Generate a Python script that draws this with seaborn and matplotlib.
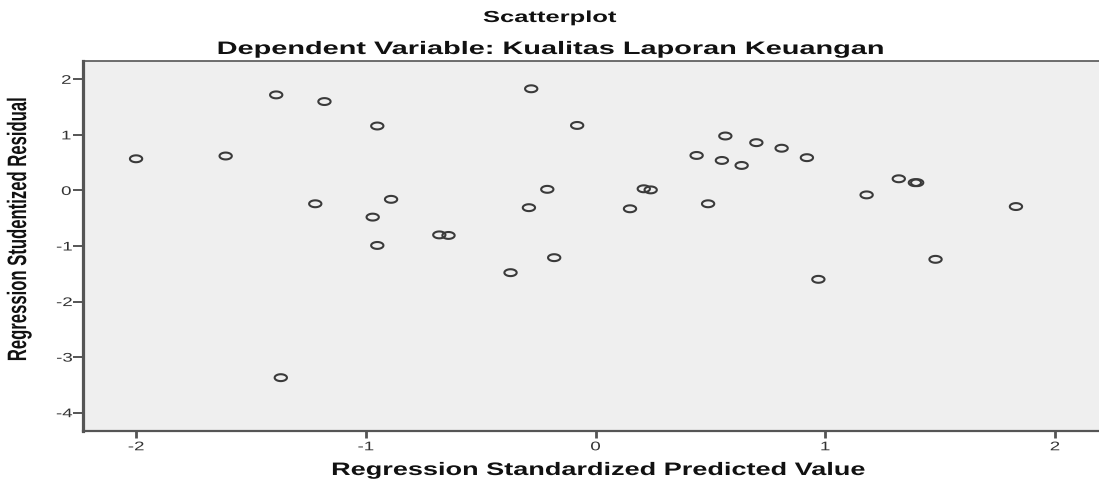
import numpy as np
import pandas as pd
import matplotlib
matplotlib.use("Agg")
import matplotlib.pyplot as plt
from matplotlib.path import Path
from matplotlib.patheffects import AbstractPathEffect
from matplotlib.transforms import Affine2D
import seaborn as sns

predicted = [-2.00, -1.61, -1.39, -1.18, -0.95, -0.28, -1.22, -0.89, -0.97,
             -0.68, -0.64, -0.29, -0.21, -0.08, 0.565, 0.70, 0.81, 0.92,
             0.44, 0.55, 0.636, 1.32, 1.39, 1.40, 0.21, 0.24, 0.15, 0.49,
             1.18, 1.83, -0.95, -0.37, -1.37, -0.18, 0.97, 1.48]
residual = [0.57, 0.62, 1.72, 1.60, 1.16, 1.83, -0.24, -0.16, -0.48,
            -0.80, -0.81, -0.31, 0.02, 1.17, 0.98, 0.86, 0.76, 0.59,
            0.63, 0.54, 0.45, 0.21, 0.14, 0.14, 0.03, 0.01, -0.33, -0.24,
            -0.08, -0.29, -0.99, -1.48, -3.37, -1.21, -1.60, -1.24]
x_ticks = [-2, -1, 0, 1, 2]
y_ticks = [2, 1, 0, -1, -2, -3, -4]


class StretchX(AbstractPathEffect):
    """Widen drawn text horizontally about its own centre (the source image is stretched)."""
    def __init__(self, sx):
        super().__init__((0, 0))
        self._sx = sx

    def draw_path(self, renderer, gc, tpath, affine, rgbFace=None):
        ext = tpath.get_extents(affine)
        cx = 0.5 * (ext.x0 + ext.x1)
        aff = affine + Affine2D().translate(-cx, 0).scale(self._sx, 1.0).translate(cx, 0)
        renderer.draw_path(gc, tpath, aff, rgbFace)


df = pd.DataFrame({"pred": predicted, "resid": residual})

sns.set_theme(style="white")
plt.rcParams['font.family'] = ['Liberation Sans', 'DejaVu Sans']

W, H = 1099, 481
L, R, T, B = 83, 1099, 62, 432
fig = plt.figure(figsize=(W / 100, H / 100), dpi=100)
ax = fig.add_axes([L / W, 1 - B / H, (R - L) / W, (B - T) / H])
ax.set_facecolor("#efefef")

t = np.linspace(0, 2 * np.pi, 60)
ellipse = Path(np.column_stack([np.cos(t), 0.56 * np.sin(t)]), closed=True)

sns.scatterplot(data=df, x="pred", y="resid", ax=ax, marker=ellipse, s=78,
                facecolors="none", edgecolor="#3a3a3a", linewidth=1.5)

ax.set_xlim(-2.231, 2.1915)
ax.set_ylim(-4.33, 2.33)
ax.set_xticks(x_ticks)
ax.set_yticks(y_ticks)
ax.set_xticklabels([str(v) for v in x_ticks])
ax.set_yticklabels([str(v) for v in y_ticks])
ax.tick_params(axis="x", direction="out", length=5.2, width=2.0,
               color="#555555", labelsize=9, labelcolor="#333333", pad=2.2)
ax.tick_params(axis="y", direction="out", length=7.5, width=1.4,
               color="#555555", labelsize=9, labelcolor="#333333", pad=2)
ax.tick_params(left=True, bottom=True)

for side in ["left", "bottom", "top"]:
    ax.spines[side].set_visible(True)
    ax.spines[side].set_color("#555555")
ax.spines["right"].set_visible(False)
ax.spines["left"].set_linewidth(2.3)
ax.spines["bottom"].set_linewidth(1.6)
ax.spines["top"].set_linewidth(1.2)

ax.set_xlabel("Regression Standardized Predicted Value", fontsize=13,
              fontweight="bold", color="#111111", va="baseline")
ax.xaxis.set_label_coords((598 - L) / (R - L), (B - 476) / (B - T))
ax.set_ylabel("Regression Studentized Residual", fontsize=12,
              fontweight="bold", color="#111111", va="center")
ax.yaxis.set_label_coords((19 - L) / (R - L), (B - 231) / (B - T))

ax.xaxis.label.set_path_effects([StretchX(1.5)])
ax.yaxis.label.set_path_effects([StretchX(1.6)])
for lbl in ax.get_xticklabels() + ax.get_yticklabels():
    lbl.set_path_effects([StretchX(1.5)])

t1 = fig.text(550 / W, 1 - 23 / H, "Scatterplot", ha="center", va="baseline",
              fontsize=11.5, fontweight="bold", color="#111111")
t2 = fig.text(550 / W, 1 - 55 / H, "Dependent Variable: Kualitas Laporan Keuangan",
              ha="center", va="baseline", fontsize=13, fontweight="bold", color="#111111")
t1.set_path_effects([StretchX(1.6)])
t2.set_path_effects([StretchX(1.6)])

fig.savefig("out.png", dpi=100)
